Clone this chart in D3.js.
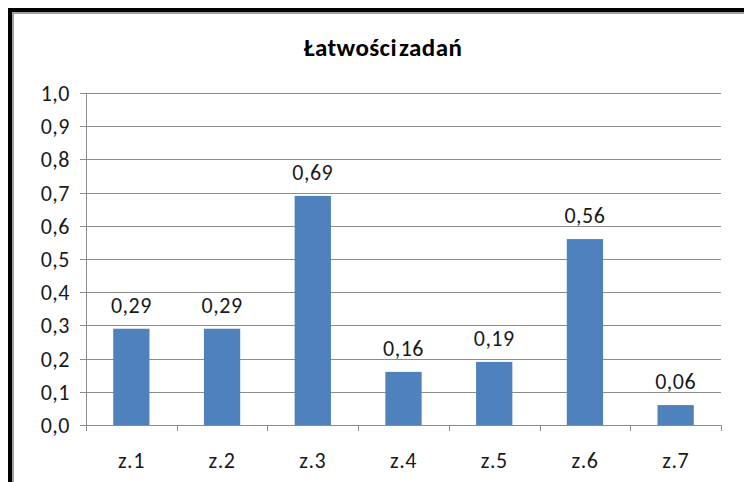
<!DOCTYPE html>
<html>
<head>
<meta charset="utf-8">
<script src="https://cdn.jsdelivr.net/npm/d3@7"></script>
<style>
body { margin: 0; background: #fff; }
svg { display: block; }
</style>
</head>
<body>
<div id="chart"></div>
<script>
var categories = ["z.1", "z.2", "z.3", "z.4", "z.5", "z.6", "z.7"];
var values = [0.29, 0.29, 0.69, 0.16, 0.19, 0.56, 0.06];
var yTicks = [0, 0.1, 0.2, 0.3, 0.4, 0.5, 0.6, 0.7, 0.8, 0.9, 1.0];
var title = "Łatwości zadań";

var width = 744, height = 482;
var margin = {top: 93, right: 23, bottom: 57, left: 86};
var fontFam = "Carlito, Calibri, 'Liberation Sans Narrow', 'Liberation Sans', sans-serif";

var svg = d3.select("#chart").append("svg")
    .attr("width", width)
    .attr("height", height);

// frame (cut off at right / bottom)
svg.append("path")
    .attr("d", "M10,490 V10 H760")
    .style("fill", "none")
    .style("stroke", "#000")
    .style("stroke-width", 4);
svg.append("path")
    .attr("d", "M13,490 V13 H760")
    .style("fill", "none")
    .style("stroke", "#a0a0a0")
    .style("stroke-width", 2);

var x = d3.scaleBand()
    .domain(categories)
    .range([margin.left, width - margin.right])
    .paddingInner(0.6)
    .paddingOuter(0.3);

var y = d3.scaleLinear()
    .domain([0, 1])
    .range([height - margin.bottom, margin.top]);

// gridlines
svg.append("g")
    .selectAll("line")
    .data(yTicks)
    .enter().append("line")
    .attr("x1", margin.left - 6)
    .attr("x2", width - margin.right)
    .attr("y1", function(d) { return Math.round(y(d)) + 0.5; })
    .attr("y2", function(d) { return Math.round(y(d)) + 0.5; })
    .style("stroke", "#8c8c8c")
    .style("stroke-width", 1);

// y axis line
svg.append("line")
    .attr("x1", margin.left + 0.5)
    .attr("x2", margin.left + 0.5)
    .attr("y1", y(1))
    .attr("y2", y(0))
    .style("stroke", "#8c8c8c");

// y tick labels
svg.append("g")
    .selectAll("text")
    .data(yTicks)
    .enter().append("text")
    .attr("x", margin.left - 16)
    .attr("y", function(d) { return y(d); })
    .attr("dy", "0.36em")
    .style("text-anchor", "end")
    .style("font-family", fontFam)
    .style("font-size", "22px")
    .style("letter-spacing", "0.5px")
    .style("fill", "#1a1a1a")
    .text(function(d) { return d.toFixed(1).replace(".", ","); });

// x ticks at category boundaries
var bounds = d3.range(categories.length + 1).map(function(i) { return margin.left + i * (width - margin.right - margin.left) / categories.length; });
svg.append("g")
    .selectAll("line")
    .data(bounds)
    .enter().append("line")
    .attr("x1", function(d) { return Math.round(d) + 0.5; })
    .attr("x2", function(d) { return Math.round(d) + 0.5; })
    .attr("y1", y(0))
    .attr("y2", y(0) + 6)
    .style("stroke", "#8c8c8c");

// bars
svg.append("g")
    .selectAll("rect")
    .data(values)
    .enter().append("rect")
    .attr("x", function(d, i) { return x(categories[i]); })
    .attr("y", function(d) { return y(d); })
    .attr("width", x.bandwidth())
    .attr("height", function(d) { return y(0) - y(d); })
    .style("fill", "#4f81bd");

// data labels
svg.append("g")
    .selectAll("text")
    .data(values)
    .enter().append("text")
    .attr("x", function(d, i) { return x(categories[i]) + x.bandwidth() / 2; })
    .attr("y", function(d) { return y(d) - 16; })
    .style("text-anchor", "middle")
    .style("font-family", fontFam)
    .style("font-size", "22px")
    .style("letter-spacing", "0.5px")
    .style("fill", "#1a1a1a")
    .text(function(d) { return d.toFixed(2).replace(".", ","); });

// category labels
svg.append("g")
    .selectAll("text")
    .data(categories)
    .enter().append("text")
    .attr("x", function(d) { return x(d) + x.bandwidth() / 2; })
    .attr("y", y(0) + 43)
    .style("text-anchor", "middle")
    .style("font-family", fontFam)
    .style("font-size", "22px")
    .style("letter-spacing", "0.5px")
    .style("fill", "#1a1a1a")
    .text(function(d) { return d; });

// title
svg.append("text")
    .attr("x", 383)
    .attr("y", 56)
    .style("text-anchor", "middle")
    .style("font-family", fontFam)
    .style("font-size", "25px")
    .style("font-weight", "bold")
    .style("letter-spacing", "0.4px")
    .style("word-spacing", "-4px")
    .style("fill", "#000")
    .text(title);
</script>
</body>
</html>
